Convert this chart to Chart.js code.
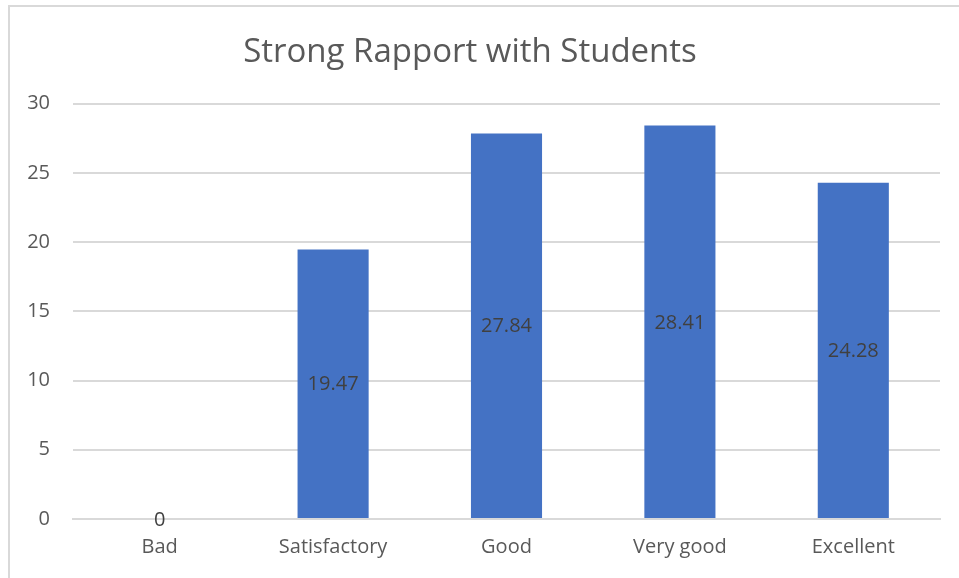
<!DOCTYPE html>
<html>
<head>
<meta charset="utf-8">
<script src="https://cdn.jsdelivr.net/npm/chart.js@4"></script>
<style>
  html, body { margin: 0; padding: 0; background: #fff; }
  #wrap { width: 959px; height: 578px; position: relative; }
</style>
</head>
<body>
<div id="wrap"><canvas id="chart" width="959" height="578"></canvas></div>
<script>
const categories = ['Bad', 'Satisfactory', 'Good', 'Very good', 'Excellent'];
const scores = [0, 19.47, 27.84, 28.41, 24.28];
const yTicks = [0, 5, 10, 15, 20, 25, 30];

const FONT = "'Open Sans', sans-serif";

// moldura cinza à volta do gráfico
const frame = {
  id: 'frame',
  beforeDraw(chart) {
    const { ctx } = chart;
    ctx.save();
    ctx.fillStyle = '#ffffff';
    ctx.fillRect(0, 0, chart.width, chart.height);
    ctx.strokeStyle = '#d9d9d9';
    ctx.lineWidth = 2;
    ctx.strokeRect(9, 6, chart.width + 10, chart.height + 10);
    ctx.restore();
  },
};

// rótulos de valor no meio de cada barra
const barLabels = {
  id: 'barLabels',
  afterDatasetsDraw(chart) {
    const { ctx } = chart;
    const meta = chart.getDatasetMeta(0);
    ctx.save();
    ctx.font = "20px " + FONT;
    ctx.fillStyle = '#404040';
    ctx.textAlign = 'center';
    ctx.textBaseline = 'middle';
    meta.data.forEach((bar, i) => {
      const v = chart.data.datasets[0].data[i];
      ctx.fillText(String(v), bar.x, (bar.y + bar.base) / 2 + 1);
    });
    ctx.restore();
  },
};

new Chart(document.getElementById('chart'), {
  type: 'bar',
  data: {
    labels: categories,
    datasets: [{
      data: scores,
      backgroundColor: '#4472C4',
      borderWidth: 0,
      barPercentage: 0.41,
      categoryPercentage: 1,
    }],
  },
  options: {
    responsive: false,
    animation: false,
    layout: { padding: { left: 0, right: 19, top: 0, bottom: 0 } },
    plugins: {
      legend: { display: false },
      tooltip: { enabled: false },
      title: {
        display: true,
        text: 'Strong Rapport with Students',
        color: '#595959',
        font: { family: FONT, size: 33, weight: 'normal' },
        padding: { top: 33, bottom: 31 },
      },
    },
    scales: {
      x: {
        grid: { display: false, drawTicks: false },
        border: { color: '#d9d9d9', width: 2 },
        ticks: { color: '#595959', font: { family: FONT, size: 20 }, padding: 16 },
        afterFit(scale) { scale.height = 59; },
      },
      y: {
        min: 0,
        max: 30,
        afterBuildTicks(scale) { scale.ticks = yTicks.map(v => ({ value: v })); },
        grid: { color: '#d9d9d9', lineWidth: 2, drawTicks: false },
        border: { display: false },
        ticks: { color: '#595959', font: { family: FONT, size: 20 }, padding: 23 },
        afterFit(scale) { scale.width = 73; },
      },
    },
  },
  plugins: [frame, barLabels],
});
</script>
</body>
</html>
